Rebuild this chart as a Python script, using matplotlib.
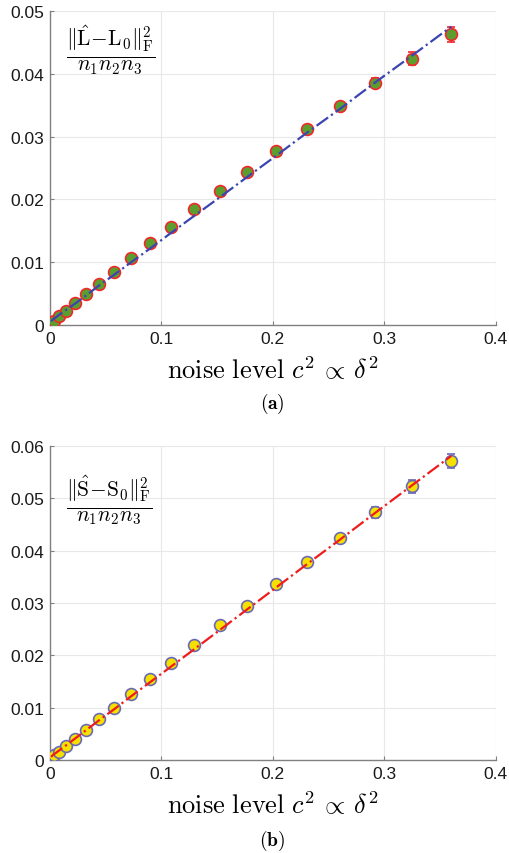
import matplotlib
matplotlib.use('Agg')
from matplotlib import pyplot as plt
from matplotlib.ticker import FuncFormatter

matplotlib.rc('font', family=['Liberation Sans', 'DejaVu Sans'], size=12.5)
matplotlib.rc('mathtext', fontset='cm')

# noise level c^2 (c = 0.03 ... 0.60)
noise = [0.0009, 0.0036, 0.0081, 0.0144, 0.0225, 0.0324, 0.0441, 0.0576, 0.0729, 0.0900,
         0.1089, 0.1296, 0.1521, 0.1764, 0.2025, 0.2304, 0.2601, 0.2916, 0.3249, 0.3600]

# (a) low-rank part error
err_L = [0.0002, 0.0007, 0.0014, 0.0023, 0.0035, 0.0049, 0.0066, 0.0085, 0.0107, 0.0131,
         0.0156, 0.0184, 0.0213, 0.0244, 0.0277, 0.0312, 0.0349, 0.0386, 0.0424, 0.0463]
std_L = [0.0002, 0.0002, 0.0002, 0.0002, 0.0002, 0.0002, 0.0002, 0.0002, 0.0002, 0.0003,
         0.0003, 0.0003, 0.0003, 0.0003, 0.0004, 0.0004, 0.0005, 0.0007, 0.0010, 0.0012]
bound_L = [0.0006, 0.0010, 0.0016, 0.0024, 0.0034, 0.0047, 0.0063, 0.0080, 0.0100, 0.0122,
           0.0147, 0.0174, 0.0203, 0.0235, 0.0269, 0.0306, 0.0344, 0.0386, 0.0429, 0.0475]

# (b) sparse part error
err_S = [0.0003, 0.0009, 0.0016, 0.0027, 0.0041, 0.0057, 0.0078, 0.0100, 0.0126, 0.0154,
         0.0186, 0.0220, 0.0257, 0.0295, 0.0336, 0.0379, 0.0424, 0.0473, 0.0523, 0.0571]
std_S = [0.0003, 0.0003, 0.0003, 0.0003, 0.0003, 0.0003, 0.0003, 0.0003, 0.0004, 0.0004,
         0.0004, 0.0004, 0.0004, 0.0004, 0.0005, 0.0006, 0.0006, 0.0010, 0.0012, 0.0013]
bound_S = [0.0006, 0.0011, 0.0018, 0.0028, 0.0041, 0.0057, 0.0076, 0.0097, 0.0122, 0.0149,
           0.0179, 0.0212, 0.0248, 0.0287, 0.0329, 0.0374, 0.0421, 0.0472, 0.0525, 0.0581]

panels = [
    dict(rect=[0.0982, 0.6183, 0.876, 0.3677], y=err_L, s=std_L, b=bound_L, ymax=0.05,
         face='#5c9e2e', edge='#f0282a', line='#3b45b0', yticks=[0, 0.01, 0.02, 0.03, 0.04, 0.05],
         label=r'$\frac{\|\hat{\mathrm{L}}\!-\!\mathrm{L}_0\|_{\mathrm{F}}^2}{n_1n_2n_3}$',
         laby=0.879, cap=r'$(\mathbf{a})$', capy=0.521),
    dict(rect=[0.0982, 0.1089, 0.876, 0.3677], y=err_S, s=std_S, b=bound_S, ymax=0.06,
         face='#f5e000', edge='#6a6ab4', line='#ee1c1c', yticks=[0, 0.01, 0.02, 0.03, 0.04, 0.05, 0.06],
         label=r'$\frac{\|\hat{\mathrm{S}}\!-\!\mathrm{S}_0\|_{\mathrm{F}}^2}{n_1n_2n_3}$',
         laby=0.831, cap=r'$(\mathbf{b})$', capy=0.010),
]

fig = plt.figure(figsize=(5.09, 8.54), dpi=100)
fmt = FuncFormatter(lambda v, p: '%g' % round(v, 4))

for p in panels:
    ax = fig.add_axes(p['rect'])
    ax.errorbar(noise, p['y'], yerr=p['s'], fmt='o', ms=8.5, mfc=p['face'], mec=p['edge'],
                mew=1.2, ecolor=p['edge'], elinewidth=1.0, capsize=3, zorder=3)
    ax.plot(noise, p['b'], ls='-.', color=p['line'], lw=1.6, zorder=4)
    ax.set_xlim(0, 0.4)
    ax.set_ylim(0, p['ymax'])
    ax.set_xticks([0, 0.1, 0.2, 0.3, 0.4])
    ax.set_yticks(p['yticks'])
    ax.xaxis.set_major_formatter(fmt)
    ax.yaxis.set_major_formatter(fmt)
    ax.grid(True, color='#e8e8e8', lw=0.8)
    ax.set_axisbelow(True)
    for side in ['top', 'right']:
        ax.spines[side].set_visible(False)
    for side in ['left', 'bottom']:
        ax.spines[side].set_color('#808080')
        ax.spines[side].set_linewidth(1.0)
    ax.tick_params(direction='in', length=3, color='#808080', labelcolor='#1a1a1a', pad=4)
    ax.set_xlabel(r'$\mathrm{noise\ level}\ c^2\,\propto\,\delta^2$', fontsize=19, labelpad=7)
    ax.text(0.035, p['laby'], p['label'], transform=ax.transAxes, fontsize=22, va='center', ha='left')
    fig.text(0.535, p['capy'], p['cap'], ha='center', fontsize=14)

fig.savefig('out.png', dpi=100)
